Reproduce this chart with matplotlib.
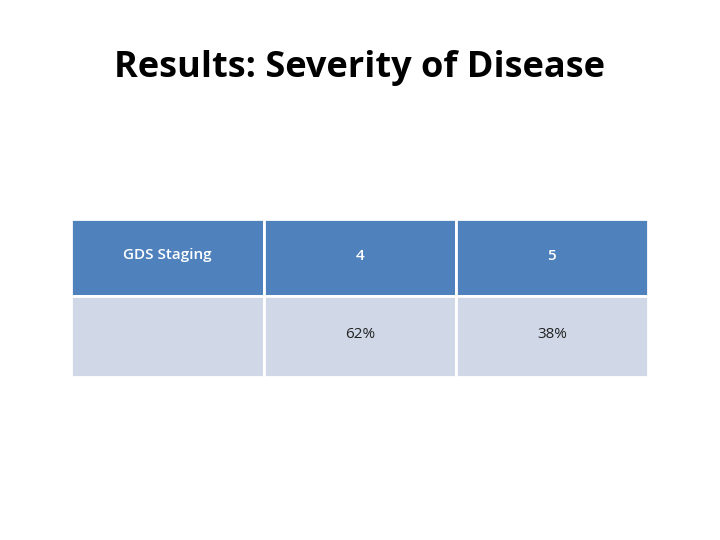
import matplotlib
matplotlib.use("Agg")
import matplotlib.pyplot as plt
from matplotlib.patches import Rectangle

title = "Results: Severity of Disease"
header = ["GDS Staging", "4", "5"]
row = ["", "62%", "38%"]

col_edges = [71, 264, 456, 648]
row_edges = [219, 296, 377]
colors = ["#4F81BD", "#D0D8E8"]
text_colors = ["white", "#222222"]

fig = plt.figure(figsize=(7.2, 5.4), dpi=100)
ax = fig.add_axes([0, 0, 1, 1])
ax.set_xlim(0, 720)
ax.set_ylim(540, 0)
ax.axis("off")

ax.text(360, 68, title, ha="center", va="center", fontsize=26, fontweight="bold",
        family="Open Sans", color="black")

for r, cells in enumerate([header, row]):
    y0, y1 = row_edges[r], row_edges[r + 1]
    for c, txt in enumerate(cells):
        x0, x1 = col_edges[c], col_edges[c + 1]
        ax.add_patch(Rectangle((x0, y0), x1 - x0, y1 - y0, facecolor=colors[r],
                               edgecolor="white", linewidth=2))
        if txt:
            ax.text((x0 + x1) / 2, (y0 + y1) / 2 - 2, txt, ha="center", va="center",
                    fontsize=11, color=text_colors[r], family="Open Sans",
                    fontweight="semibold" if r == 0 else "normal")

fig.savefig("out.png", dpi=100)
